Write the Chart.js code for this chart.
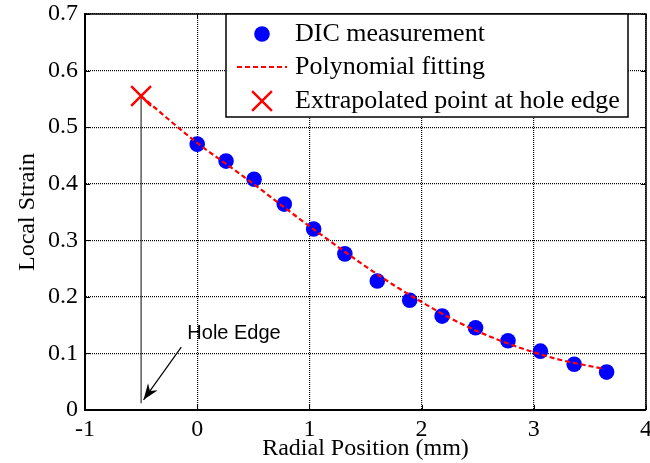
<!DOCTYPE html>
<html>
<head>
<meta charset="utf-8">
<script src="https://cdn.jsdelivr.net/npm/chart.js@4.4.1/dist/chart.umd.min.js"></script>
<style>
  html, body { margin: 0; padding: 0; background: #fff; }
  #wrap { width: 650px; height: 463px; }
</style>
</head>
<body>
<div id="wrap"><canvas id="myChart"></canvas></div>
<script>
// DIC strain readings along the radial line (mm, strain)
var radialPos = [0, 0.257, 0.507, 0.776, 1.038, 1.316, 1.605, 1.894, 2.183, 2.481, 2.77, 3.059, 3.36, 3.649];
var localStrain = [0.470, 0.440, 0.408, 0.364, 0.320, 0.276, 0.228, 0.194, 0.166, 0.1455, 0.1225, 0.104, 0.081, 0.067];

// polynomial fit, sampled along the curve
var fitPos = [-0.5, 0, 0.25, 0.5, 0.75, 1.0, 1.25, 1.5, 1.75, 2.0, 2.25, 2.5, 2.75, 3.0, 3.25, 3.62];
var fitStrain = [0.555, 0.472, 0.436, 0.400, 0.362, 0.325, 0.289, 0.254, 0.221, 0.191, 0.163, 0.139, 0.119, 0.102, 0.088, 0.073];

// value extrapolated to the hole edge
var edgePos = [-0.5];
var edgeStrain = [0.555];

// hole edge marker and the arrow pointing at it
var edgeLinePos = [-0.5, -0.5];
var edgeLineStrain = [0.555, 0.012];
var arrowPos = [-0.142, -0.478];
var arrowStrain = [0.111, 0.018];
var holeLabel = 'Hole Edge';
var holeLabelAt = [-0.088, 0.136];

var xTicks = [-1, 0, 1, 2, 3, 4];
var yTicks = [0, 0.1, 0.2, 0.3, 0.4, 0.5, 0.6, 0.7];

function pts(xs, ys) {
  var out = [];
  for (var i = 0; i < xs.length; i++) {
    out.push({x: xs[i], y: ys[i]});
  }
  return out;
}

var serif = "'Liberation Serif', 'Times New Roman', serif";

// top/right frame plus inward tick marks
var frame = {
  id: 'frame',
  afterDatasetsDraw: function(chart) {
    var ctx = chart.ctx, a = chart.chartArea;
    var xs = chart.scales.x, ys = chart.scales.y;
    ctx.save();
    ctx.strokeStyle = '#000';
    ctx.lineWidth = 1.5;
    ctx.beginPath();
    ctx.moveTo(a.left, a.top);
    ctx.lineTo(a.right, a.top);
    ctx.lineTo(a.right, a.bottom);
    ctx.stroke();
    ctx.lineWidth = 1;
    ctx.beginPath();
    xTicks.forEach(function(v) {
      var px = Math.round(xs.getPixelForValue(v)) + 0.5;
      ctx.moveTo(px, a.bottom); ctx.lineTo(px, a.bottom - 5);
      ctx.moveTo(px, a.top); ctx.lineTo(px, a.top + 5);
    });
    yTicks.forEach(function(v) {
      var py = Math.round(ys.getPixelForValue(v)) + 0.5;
      ctx.moveTo(a.left, py); ctx.lineTo(a.left + 5, py);
      ctx.moveTo(a.right, py); ctx.lineTo(a.right - 5, py);
    });
    ctx.stroke();

    // arrow head at the end of the arrow line
    var x0 = xs.getPixelForValue(arrowPos[0]), y0 = ys.getPixelForValue(arrowStrain[0]);
    var x1 = xs.getPixelForValue(arrowPos[1]), y1 = ys.getPixelForValue(arrowStrain[1]);
    var ang = Math.atan2(y1 - y0, x1 - x0);
    ctx.translate(x1, y1);
    ctx.rotate(ang);
    ctx.fillStyle = '#000';
    ctx.beginPath();
    ctx.moveTo(0, 0);
    ctx.lineTo(-16, -6);
    ctx.lineTo(-11, 0);
    ctx.lineTo(-16, 6);
    ctx.closePath();
    ctx.fill();
    ctx.setTransform(1, 0, 0, 1, 0, 0);

    ctx.fillStyle = '#000';
    ctx.font = "20px 'Liberation Sans', Arial, sans-serif";
    ctx.textAlign = 'left';
    ctx.textBaseline = 'middle';
    ctx.fillText(holeLabel, xs.getPixelForValue(holeLabelAt[0]), ys.getPixelForValue(holeLabelAt[1]));
    ctx.restore();
  }
};

// boxed legend in the upper right of the plot
var legendBox = {
  id: 'legendBox',
  afterDraw: function(chart) {
    var ctx = chart.ctx;
    var bx = 226, by = 14, bw = 402, bh = 103;
    var rows = [34, 67, 101];
    var sets = chart.data.datasets;
    ctx.save();
    ctx.fillStyle = '#fff';
    ctx.fillRect(bx, by, bw, bh);
    ctx.strokeStyle = '#000';
    ctx.lineWidth = 1.5;
    ctx.strokeRect(bx, by, bw, bh);

    // measured points
    var d0 = sets[1];
    ctx.fillStyle = d0.backgroundColor;
    Chart.helpers.drawPoint(ctx, {pointStyle: 'circle', radius: d0.pointRadius, rotation: 0, borderWidth: 0}, 262, rows[0]);
    // fitted curve
    var d1 = sets[0];
    ctx.strokeStyle = d1.borderColor;
    ctx.lineWidth = d1.borderWidth;
    ctx.setLineDash(d1.borderDash);
    ctx.beginPath();
    ctx.moveTo(237, rows[1]);
    ctx.lineTo(287, rows[1]);
    ctx.stroke();
    ctx.setLineDash([]);
    // extrapolated point
    var d2 = sets[2];
    ctx.strokeStyle = d2.borderColor;
    ctx.lineWidth = d2.borderWidth;
    Chart.helpers.drawPoint(ctx, {pointStyle: 'crossRot', radius: d2.pointRadius, rotation: 0, borderWidth: d2.borderWidth}, 262, rows[2]);

    ctx.fillStyle = '#000';
    ctx.font = '26px ' + serif;
    ctx.textAlign = 'left';
    ctx.textBaseline = 'middle';
    ctx.fillText(d0.label, 295, rows[0]);
    ctx.fillText(d1.label, 295, rows[1]);
    ctx.fillText(d2.label, 295, rows[2]);
    ctx.restore();
  }
};

var ctx = document.getElementById('myChart');
var myChart = new Chart(ctx, {
  type: 'scatter',
  data: {
    datasets: [{
      label: 'Polynomial fitting',
      data: pts(fitPos, fitStrain),
      showLine: true,
      borderColor: '#ff0000',
      borderWidth: 2.2,
      borderDash: [5, 3],
      pointRadius: 0,
      cubicInterpolationMode: 'monotone',
      order: 0
    }, {
      label: 'DIC measurement',
      data: pts(radialPos, localStrain),
      backgroundColor: '#0000ff',
      borderWidth: 0,
      pointRadius: 7.8,
      order: 1
    }, {
      label: 'Extrapolated point at hole edge',
      data: pts(edgePos, edgeStrain),
      pointStyle: 'crossRot',
      pointRadius: 14,
      borderColor: '#ff0000',
      borderWidth: 2.5,
      order: 0
    }, {
      label: 'edge',
      data: pts(edgeLinePos, edgeLineStrain),
      showLine: true,
      borderColor: '#333',
      borderWidth: 1.2,
      pointRadius: 0,
      order: 2
    }, {
      label: 'arrow',
      data: pts(arrowPos, arrowStrain),
      showLine: true,
      borderColor: '#000',
      borderWidth: 1.2,
      pointRadius: 0,
      order: 2
    }]
  },
  options: {
    responsive: true,
    maintainAspectRatio: false,
    animation: false,
    layout: { autoPadding: false, padding: { top: 14, right: 4, left: 0, bottom: 0 } },
    plugins: {
      legend: { display: false },
      tooltip: { enabled: false }
    },
    scales: {
      x: {
        type: 'linear',
        min: -1,
        max: 4,
        afterBuildTicks: function(scale) {
          scale.ticks = xTicks.map(function(v) { return {value: v}; });
        },
        afterFit: function(scale) {
          scale.height = 53;
          scale.paddingLeft = 0;
          scale.paddingRight = 0;
        },
        grid: { color: '#000', lineWidth: 1.2, drawTicks: false },
        border: { display: true, color: '#000', width: 2, dash: [1, 1] },
        ticks: { color: '#000', padding: 5, maxRotation: 0, font: { family: serif, size: 24 } },
        title: {
          display: true,
          text: 'Radial Position (mm)',
          color: '#000',
          font: { family: serif, size: 24, lineHeight: 1.2 },
          padding: { top: 0, bottom: 0 }
        }
      },
      y: {
        type: 'linear',
        min: 0,
        max: 0.7,
        afterBuildTicks: function(scale) {
          scale.ticks = yTicks.map(function(v) { return {value: v}; });
        },
        afterFit: function(scale) {
          scale.width = 85;
          scale.paddingTop = 0;
          scale.paddingBottom = 0;
        },
        grid: { color: '#000', lineWidth: 1.2, drawTicks: false },
        border: { display: true, color: '#000', width: 2, dash: [1, 1] },
        ticks: { color: '#000', padding: 7, font: { family: serif, size: 24 } },
        title: {
          display: true,
          text: 'Local Strain',
          color: '#000',
          font: { family: serif, size: 24, lineHeight: 1.2 },
          padding: { top: 13, bottom: 0 }
        }
      }
    }
  },
  plugins: [frame, legendBox]
});
</script>
</body>
</html>
